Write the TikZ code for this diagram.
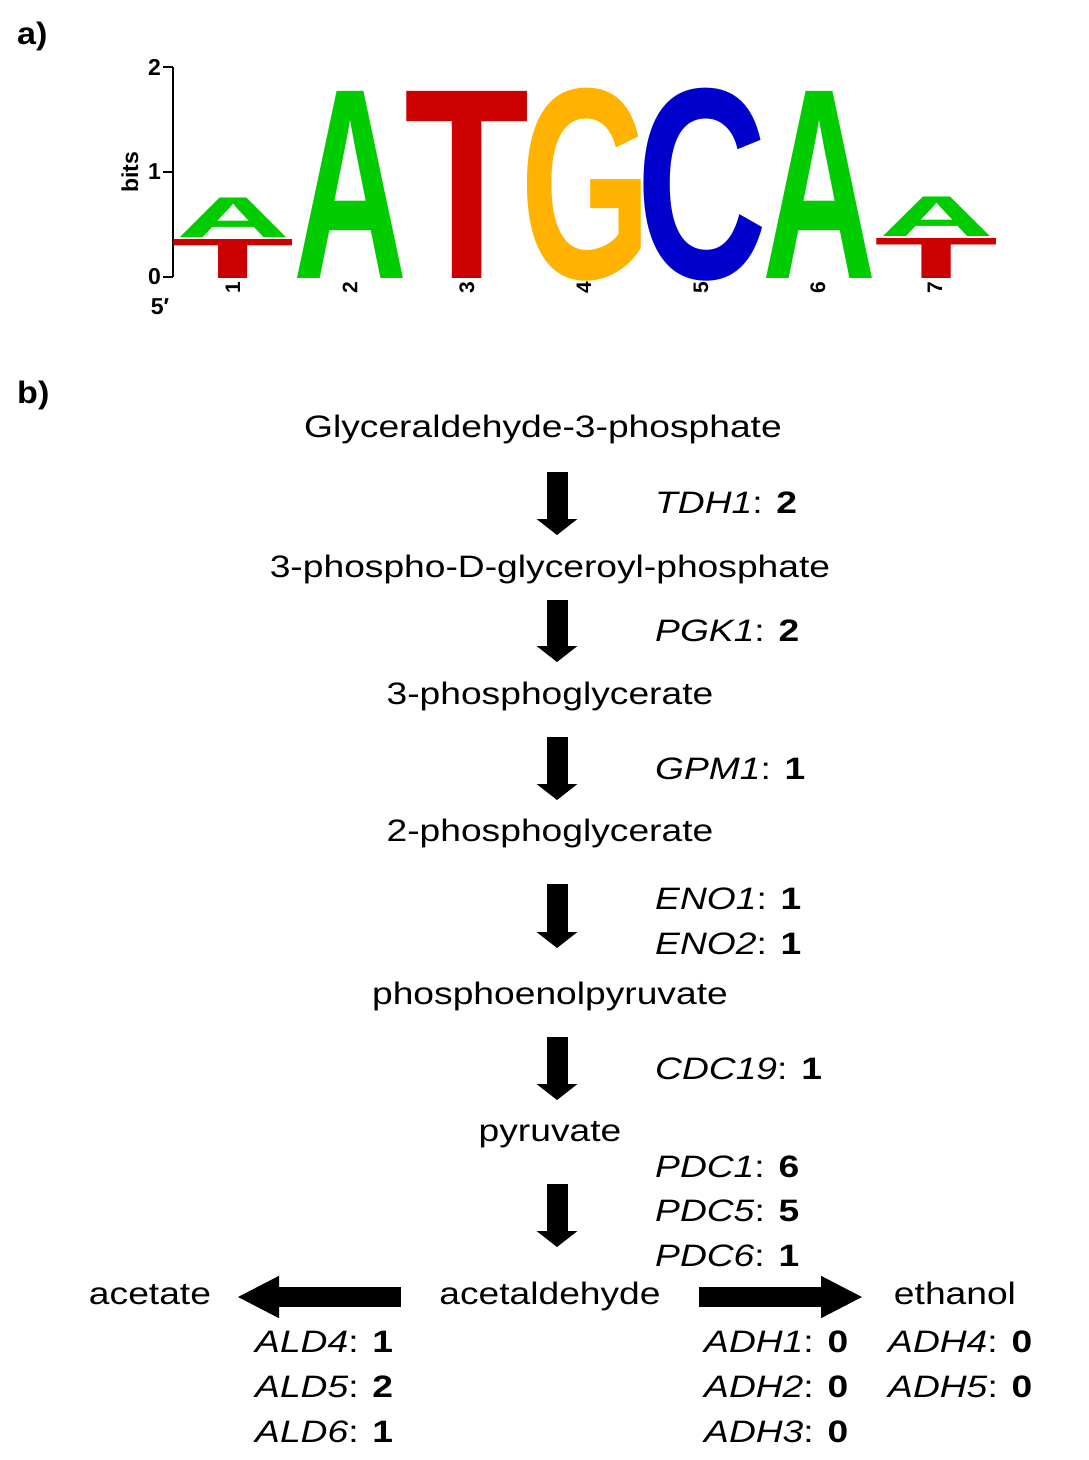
\documentclass[tikz,border=0pt]{standalone}
\usepackage{fontspec}
\setmainfont{Liberation Sans}
\usepackage{graphicx}
\usetikzlibrary{arrows.meta}
\definecolor{lgreen}{RGB}{0,204,0}
\definecolor{lred}{RGB}{204,0,0}
\definecolor{lorange}{RGB}{255,179,0}
\definecolor{lblue}{RGB}{0,0,204}
\newcommand{\WX}[1]{\scalebox{1.2}[1]{#1}}
\newcommand{\LG}[3]{\resizebox{#1pt}{#2pt}{\bfseries #3}}
\begin{document}
\begin{tikzpicture}[x=1pt,y=-1pt,
  cmp/.style={font=\fontsize{31}{36}\selectfont, inner sep=0pt, anchor=base},
  gene/.style={font=\fontsize{31}{36}\selectfont, inner sep=0pt, anchor=base west},
  flux/.style={line width=21pt, -{Triangle[length=16pt,width=40pt]}},
  hflux/.style={line width=20pt, -{Triangle[length=42pt,width=39pt]}},
  logo/.style={inner sep=0pt, anchor=base west},
  axlab/.style={font=\fontsize{23}{27}\selectfont\bfseries, inner sep=0pt},
  numlab/.style={font=\fontsize{21}{25}\selectfont\bfseries, inner sep=0pt, rotate=90},
  panel/.style={font=\fontsize{31}{36}\selectfont\bfseries, inner sep=0pt, anchor=base west},
]
\useasboundingbox (0,0) rectangle (1088,1460);

% panel labels
\node[panel] (pa) at (17,44) {\scalebox{1.1}[1]{a)}};
\node[panel] (pb) at (17,403) {\scalebox{1.1}[1]{b)}};

% ---------- sequence logo ----------
\draw[line width=1.2pt] (173,67) -- (173,277);
\draw[line width=1.2pt] (163,67) -- (173,67);
\draw[line width=1.2pt] (163,172) -- (173,172);
\draw[line width=1.2pt] (163,277) -- (173,277);
\node[axlab, anchor=east] (t2) at (161,67) {2};
\node[axlab, anchor=east] (t1) at (161,172) {1};
\node[axlab, anchor=east] (t0) at (161,277) {0};
\node[axlab, rotate=90] (bits) at (130,172) {bits};
\node[axlab] (five) at (160,307) {5′};

% column 1
\node[logo, text=lred] (c1t) at (171.6,278) {\LG{123}{39}{T}};
\node[logo, text=lgreen] (c1a) at (176,237.5) {\LG{114}{39.5}{A}};
% column 2
\node[logo, text=lgreen] (c2) at (293,278) {\LG{114}{187}{A}};
% column 3
\node[logo, text=lred] (c3) at (404.5,278) {\LG{125}{187}{T}};
% column 4
\node[logo, text=lorange] (c4) at (520,278) {\LG{131}{190}{G}};
% column 5
\node[logo, text=lblue] (c5) at (636,278) {\LG{131}{190}{C}};
% column 6
\node[logo, text=lgreen] (c6) at (762,278) {\LG{114}{187}{A}};
% column 7
\node[logo, text=lred] (c7t) at (874.5,278) {\LG{124}{40}{T}};
\node[logo, text=lgreen] (c7a) at (879,236.5) {\LG{115}{39.5}{A}};

\node[numlab] (n1) at (233,288) {1};
\node[numlab] (n2) at (350,288) {2};
\node[numlab] (n3) at (467,288) {3};
\node[numlab] (n4) at (584,288) {4};
\node[numlab] (n5) at (701,288) {5};
\node[numlab] (n6) at (818,288) {6};
\node[numlab] (n7) at (935,288) {7};

% ---------- pathway ----------
\node[cmp] (g3p) at (543,437) {\WX{Glyceraldehyde-3-phosphate}};
\node[cmp] (bpg) at (550,577) {\WX{3-phospho-D-glyceroyl-phosphate}};
\node[cmp] (pg3) at (550,704) {\WX{3-phosphoglycerate}};
\node[cmp] (pg2) at (550,841) {\WX{2-phosphoglycerate}};
\node[cmp] (pep) at (550,1004) {\WX{phosphoenolpyruvate}};
\node[cmp] (pyr) at (550,1141) {\WX{pyruvate}};
\node[cmp] (acd) at (550,1304) {\WX{acetaldehyde}};
\node[cmp] (act) at (150,1304) {\WX{acetate}};
\node[cmp] (eth) at (955,1304) {\WX{ethanol}};

\coordinate (a1s) at (557,472);  \coordinate (a1e) at (557,535);
\coordinate (a2s) at (557,600);  \coordinate (a2e) at (557,662);
\coordinate (a3s) at (557,737);  \coordinate (a3e) at (557,800);
\coordinate (a4s) at (557,884);  \coordinate (a4e) at (557,948);
\coordinate (a5s) at (557,1037); \coordinate (a5e) at (557,1100);
\coordinate (a6s) at (557,1184); \coordinate (a6e) at (557,1247);
\coordinate (als) at (401,1297); \coordinate (ale) at (237,1297);
\coordinate (ars) at (699,1297); \coordinate (are) at (863,1297);

\draw[flux] (a1s) -- (a1e);
\draw[flux] (a2s) -- (a2e);
\draw[flux] (a3s) -- (a3e);
\draw[flux] (a4s) -- (a4e);
\draw[flux] (a5s) -- (a5e);
\draw[flux] (a6s) -- (a6e);
\draw[hflux] (als) -- (ale);
\draw[hflux] (ars) -- (are);

\node[gene] (tdh1) at (655,513) {\WX{\textit{TDH1}: \textbf{2}}};
\node[gene] (pgk1) at (655,641) {\WX{\textit{PGK1}: \textbf{2}}};
\node[gene] (gpm1) at (655,779) {\WX{\textit{GPM1}: \textbf{1}}};
\node[gene] (eno1) at (655,909) {\WX{\textit{ENO1}: \textbf{1}}};
\node[gene] (eno2) at (655,954) {\WX{\textit{ENO2}: \textbf{1}}};
\node[gene] (cdc19) at (655,1079) {\WX{\textit{CDC19}: \textbf{1}}};
\node[gene] (pdc1) at (655,1177) {\WX{\textit{PDC1}: \textbf{6}}};
\node[gene] (pdc5) at (655,1221) {\WX{\textit{PDC5}: \textbf{5}}};
\node[gene] (pdc6) at (655,1266) {\WX{\textit{PDC6}: \textbf{1}}};

\node[gene] (ald4) at (255,1352) {\WX{\textit{ALD4}: \textbf{1}}};
\node[gene] (ald5) at (255,1397) {\WX{\textit{ALD5}: \textbf{2}}};
\node[gene] (ald6) at (255,1442) {\WX{\textit{ALD6}: \textbf{1}}};

\node[gene] (adh1) at (704,1352) {\WX{\textit{ADH1}: \textbf{0}}};
\node[gene] (adh2) at (704,1397) {\WX{\textit{ADH2}: \textbf{0}}};
\node[gene] (adh3) at (704,1442) {\WX{\textit{ADH3}: \textbf{0}}};
\node[gene] (adh4) at (888,1352) {\WX{\textit{ADH4}: \textbf{0}}};
\node[gene] (adh5) at (888,1397) {\WX{\textit{ADH5}: \textbf{0}}};
\end{tikzpicture}
\end{document}
